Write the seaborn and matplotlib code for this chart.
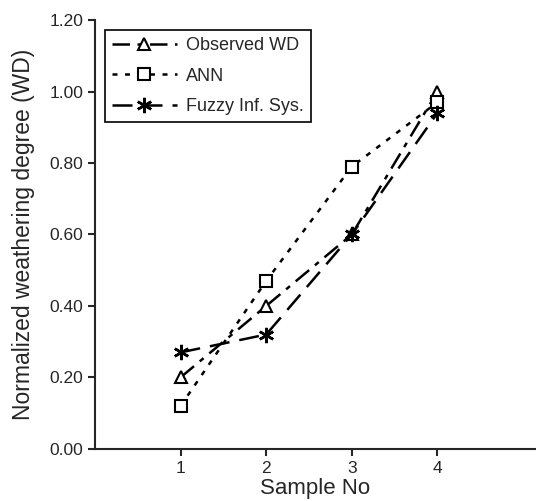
import matplotlib
matplotlib.use('Agg')
import matplotlib.pyplot as plt
import seaborn as sns
import pandas as pd

sample_no = [1, 2, 3, 4]
observed_wd = [0.20, 0.40, 0.60, 1.00]
ann = [0.12, 0.47, 0.79, 0.97]
fuzzy = [0.27, 0.32, 0.60, 0.94]

sns.set_style('ticks')
plt.rcParams['font.family'] = ['Liberation Sans', 'DejaVu Sans']

df = pd.DataFrame({'Sample No': sample_no, 'Observed WD': observed_wd,
                   'ANN': ann, 'Fuzzy Inf. Sys.': fuzzy})

fig = plt.figure(figsize=(5.36, 5.01), dpi=100)
ax = fig.add_axes([0.177, 0.104, 0.823, 0.856])

# Observed - dash dot
sns.lineplot(data=df, x='Sample No', y='Observed WD', ax=ax, color='black',
             linestyle=(0, (7, 3, 2, 3)), linewidth=1.8, marker='^', markersize=9,
             markerfacecolor='white', markeredgecolor='black', markeredgewidth=1.5,
             label='Observed WD')
# ANN - dotted
sns.lineplot(data=df, x='Sample No', y='ANN', ax=ax, color='black',
             linestyle=(0, (2, 3)), linewidth=1.8, marker='s', markersize=8,
             markerfacecolor='white', markeredgecolor='black', markeredgewidth=1.5,
             label='ANN')
# Fuzzy - long dash
sns.lineplot(data=df, x='Sample No', y='Fuzzy Inf. Sys.', ax=ax, color='black',
             linestyle=(0, (8, 4)), linewidth=1.8, marker=(6, 2, 0), markersize=11,
             markeredgecolor='black', markeredgewidth=1.8,
             label='Fuzzy Inf. Sys.')

ax.set_xlim(0, 5.15)
ax.set_ylim(0, 1.2)
ax.set_xticks(sample_no)
ax.set_yticks([0.0, 0.2, 0.4, 0.6, 0.8, 1.0, 1.2])
ax.set_yticklabels(['%.2f' % v for v in [0.0, 0.2, 0.4, 0.6, 0.8, 1.0, 1.2]])
ax.tick_params(labelsize=12.5, width=1.5, length=5)
ax.set_xlabel('Sample No', fontsize=16, labelpad=2)
ax.set_ylabel('Normalized weathering degree (WD)', fontsize=16.5, labelpad=10)
for s in ['left', 'bottom']:
    ax.spines[s].set_linewidth(1.5)
sns.despine(ax=ax)

leg = ax.legend(loc='upper left', bbox_to_anchor=(0.01, 0.99), fontsize=13,
                handlelength=3.6, handletextpad=0.5, frameon=True, fancybox=False,
                framealpha=1, borderpad=0.4, borderaxespad=0.3, labelspacing=0.75)
leg.get_frame().set_edgecolor('black')
leg.get_frame().set_linewidth(1.2)

fig.savefig('out.png', dpi=100)
